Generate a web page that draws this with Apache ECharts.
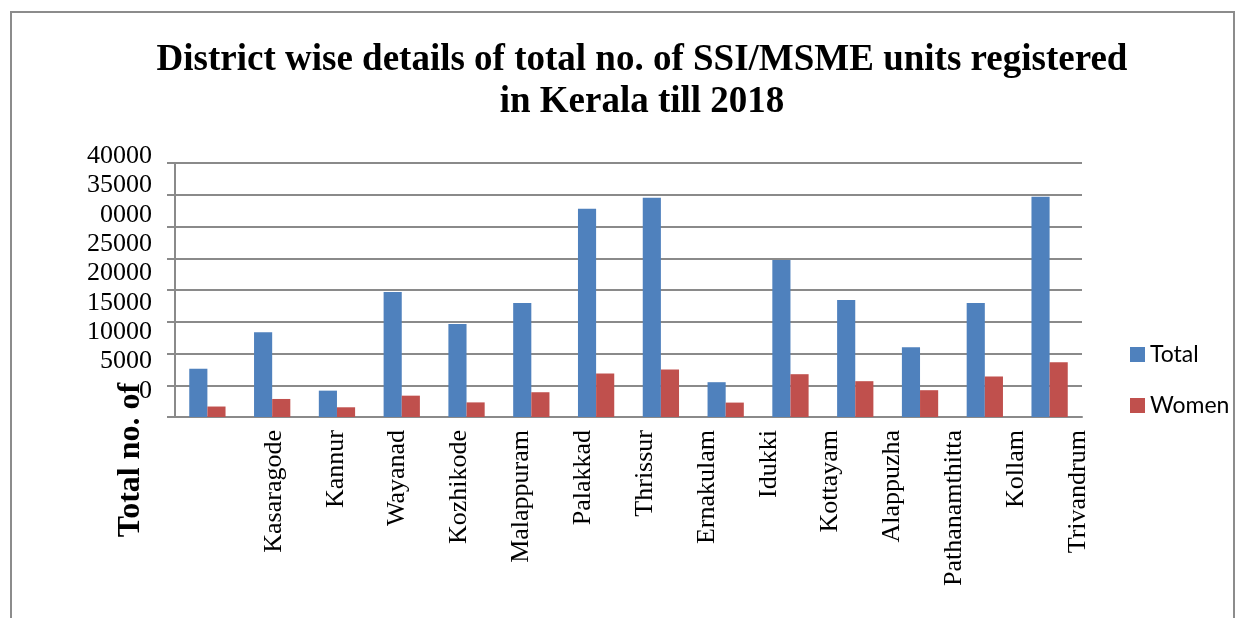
<html>
<head>
  <meta charset="utf-8" />
  <title>SSI/MSME units in Kerala</title>
  <script type="text/javascript" src="https://cdn.jsdelivr.net/npm/echarts@6/dist/echarts.min.js"></script>
</head>
<body style="margin: 0; background: #fff">
  <div id="chart" style="width: 1246px; height: 618px"></div>
<script type="text/javascript">
  // data
  var districts = ['Kasaragode', 'Kannur', 'Wayanad', 'Kozhikode', 'Malappuram', 'Palakkad', 'Thrissur',
                   'Ernakulam', 'Idukki', 'Kottayam', 'Alappuzha', 'Pathanamthitta', 'Kollam', 'Trivandrum'];
  var totalUnits = [7600, 13350, 4150, 19680, 14630, 17950, 32790, 34520, 5480, 24740, 18420, 11000, 17950, 34680];
  var womenUnits = [1650, 2840, 1530, 3360, 2300, 3900, 6850, 7480, 2270, 6740, 5640, 4220, 6380, 8640];
  // the y labels as printed (the "3" of 30000 is missing in the source)
  var yTickLabels = ['0', '5000', '10000', '15000', '20000', '25000', '0000', '35000', '40000'];

  var serif = '"Liberation Serif", "Times New Roman", serif';
  var gridGray = '#8a8a8a';

  var chart = echarts.init(document.getElementById('chart'));

  var option = {
    animation: false,
    backgroundColor: '#fff',
    color: ['#4F81BD', '#C0504D'],
    title: {
      text: 'District wise details of total no. of SSI/MSME units registered\nin Kerala till 2018',
      left: 637,
      textAlign: 'center',
      top: 34,
      textStyle: { fontFamily: serif, fontWeight: 'bold', fontSize: 37, lineHeight: 42, color: '#000' }
    },
    legend: {
      orient: 'vertical',
      left: 1125,
      top: 338,
      itemWidth: 15,
      itemHeight: 15,
      itemGap: 28,
      icon: 'rect',
      textStyle: { fontFamily: 'Lato, "Liberation Sans", sans-serif', fontSize: 23, color: '#000' },
      data: ['Total', 'Women']
    },
    grid: [
      // bars
      { left: 175, right: 164, top: 163, bottom: 201 },
      // category labels as they sit in the source (shifted right)
      { left: 243, right: 137, top: 163, bottom: 201 },
      // value labels as they sit in the source (shifted up)
      { left: 175, right: 164, top: 156, bottom: 227 }
    ],
    xAxis: [
      {
        gridIndex: 0, type: 'category', data: districts,
        axisLine: { lineStyle: { color: gridGray, width: 2 } },
        axisTick: { show: false },
        axisLabel: { show: false }
      },
      {
        gridIndex: 1, type: 'category', data: districts,
        axisLine: { show: false }, axisTick: { show: false },
        axisLabel: { rotate: 90, margin: 13, interval: 0, fontFamily: serif, fontSize: 26, color: '#000' }
      },
      { gridIndex: 2, type: 'value', show: false }
    ],
    yAxis: [
      {
        gridIndex: 0, type: 'value', min: 0, max: 40000, interval: 5000,
        axisLine: { show: true, lineStyle: { color: gridGray, width: 2 } },
        axisTick: { show: true, length: 8, lineStyle: { color: gridGray, width: 2 } },
        splitLine: { lineStyle: { color: gridGray, width: 2 } },
        axisLabel: { show: false }
      },
      { gridIndex: 1, type: 'value', show: false },
      {
        gridIndex: 2, type: 'value', min: 0, max: 40000, interval: 5000,
        axisLine: { show: false }, axisTick: { show: false }, splitLine: { show: false },
        axisLabel: {
          margin: 23, fontFamily: serif, fontSize: 26, color: '#000',
          formatter: function (value) { return yTickLabels[Math.round(value / 5000)]; }
        }
      }
    ],
    graphic: [
      {
        type: 'rect', silent: true, z: -1,
        shape: { x: 11, y: 12, width: 1223, height: 700 },
        style: { fill: 'none', stroke: '#8c8c8c', lineWidth: 2 }
      },
      {
        type: 'text', x: 131, y: 460, rotation: Math.PI / 2,
        style: { text: 'Total no. of', font: 'bold 32px ' + serif, fill: '#000', textAlign: 'center', textVerticalAlign: 'middle' }
      }
    ],
    series: [
      { name: 'Total', type: 'bar', xAxisIndex: 0, yAxisIndex: 0, data: totalUnits, barGap: '0%', barCategoryGap: '44%' },
      { name: 'Women', type: 'bar', xAxisIndex: 0, yAxisIndex: 0, data: womenUnits, barGap: '0%', barCategoryGap: '44%' }
    ]
  };

  chart.setOption(option);
</script>
</body>
</html>
